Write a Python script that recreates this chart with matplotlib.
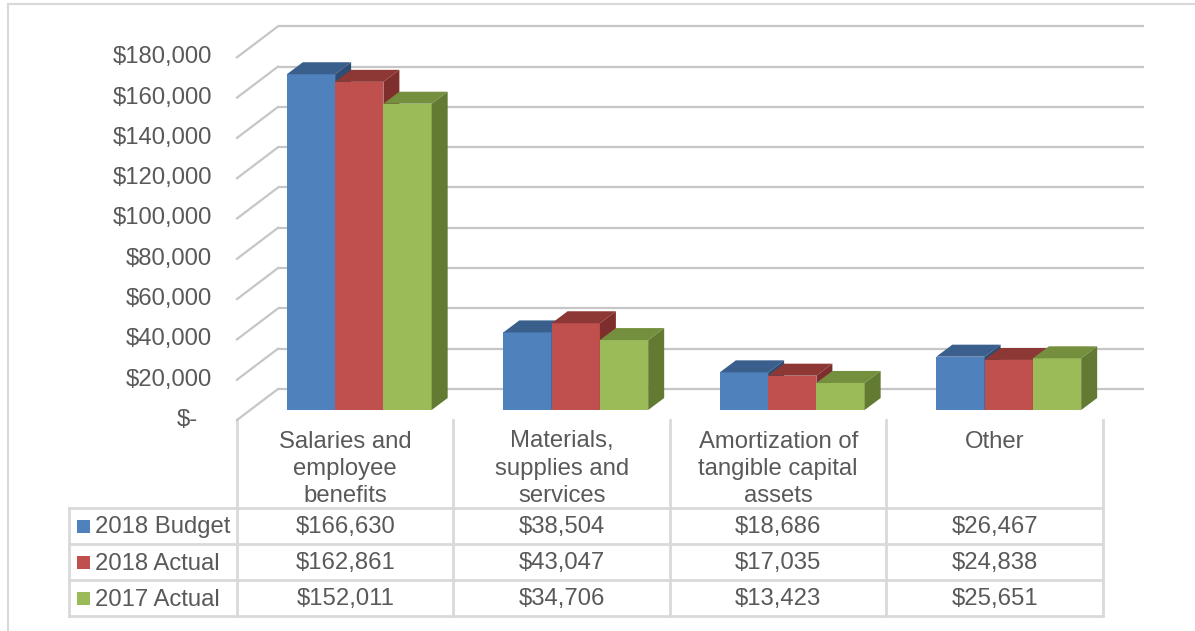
import numpy as np
import matplotlib
matplotlib.use('Agg')
import matplotlib.pyplot as plt
from matplotlib.patches import Polygon, Rectangle

plt.rcParams['font.family'] = ['Liberation Sans', 'DejaVu Sans']

categories = ['Salaries and\nemployee\nbenefits',
              'Materials,\nsupplies and\nservices',
              'Amortization of\ntangible capital\nassets',
              'Other']
series_names = ['2018 Budget', '2018 Actual', '2017 Actual']
budget_2018 = [166630, 38504, 18686, 26467]
actual_2018 = [162861, 43047, 17035, 24838]
actual_2017 = [152011, 34706, 13423, 25651]
y_ticks = [0, 20000, 40000, 60000, 80000, 100000, 120000, 140000, 160000, 180000]

series = [budget_2018, actual_2018, actual_2017]
FRONT = ['#4F81BD', '#C0504D', '#9BBB59']
TOP = ['#3A5F8C', '#8E3836', '#74903F']
SIDE = ['#2F4D72', '#7E2F2D', '#637A33']
TXT = '#595959'
GRID = '#C6C6C6'
LINE = '#D9D9D9'
FS = 17.2

W, H = 1195, 631
fig = plt.figure(figsize=(W / 100, H / 100), dpi=100)

# overlay in pixel units for the frame and the data table
lay = fig.add_axes([0, 0, 1, 1])
lay.set_xlim(0, W)
lay.set_ylim(H, 0)
lay.axis('off')

# plane of the bar front faces
PL, PR, PB, PT = 251, 1117, 410, 47.3
ax = fig.add_axes([PL / W, 1 - PB / H, (PR - PL) / W, (PB - PT) / H])
ax.set_xlim(0, len(categories))
ax.set_ylim(0, y_ticks[-1])
ax.axis('off')

sx = len(categories) / (PR - PL)   # data units per pixel
sy = y_ticks[-1] / (PB - PT)
cat_w = (PR - PL) / len(categories)

# back wall / side wall gridlines
BACK = (27, 21)
FRONTW = (-14, -10)
for v in y_ticks:
    ax.plot([BACK[0] * sx, len(categories) + BACK[0] * sx], [v + BACK[1] * sy] * 2,
            color=GRID, lw=1.6, clip_on=False, zorder=1, solid_capstyle='butt')
    ax.plot([BACK[0] * sx, FRONTW[0] * sx], [v + BACK[1] * sy, v + FRONTW[1] * sy],
            color=GRID, lw=1.6, clip_on=False, zorder=1)
    label = '${:,}'.format(v) if v else '$-'
    pad = 25 if v else 39
    ax.text((FRONTW[0] - pad) * sx, v + (FRONTW[1] + 2.5) * sy, label, ha='right',
            va='center_baseline', fontsize=FS, color=TXT, clip_on=False)

# 3-D columns
bw = 0.223
dx, dy = 16 * sx, 12 * sy
x = np.arange(len(categories)) + 0.5
for j, vals in enumerate(series):
    z = 3 + j
    bars = ax.bar(x + (j - 1) * bw, vals, width=bw, color=FRONT[j], lw=0, zorder=z)
    for r in bars:
        x0, h = r.get_x(), r.get_height()
        x1 = x0 + bw
        ax.add_patch(Polygon([(x0, h), (x1, h), (x1 + dx, h + dy), (x0 + dx, h + dy)],
                             closed=True, fc=TOP[j], lw=0, zorder=z, clip_on=False))
        ax.add_patch(Polygon([(x1, 0), (x1, h), (x1 + dx, h + dy), (x1 + dx, dy)],
                             closed=True, fc=SIDE[j], lw=0, zorder=z, clip_on=False))

# chart frame
lay.plot([8, 8], [H, 4], color=LINE, lw=1.5)
lay.plot([8, W], [4, 4], color=LINE, lw=1.5)

# data table
col_x = [PL + FRONTW[0] + cat_w * i for i in range(len(categories) + 1)]
row_lines = [508, 544, 580, 616]
tab_left = 69
for cx in col_x:
    lay.plot([cx, cx], [420, row_lines[-1]], color=LINE, lw=2, zorder=2)
lay.plot([tab_left, tab_left], [row_lines[0], row_lines[-1]], color=LINE, lw=2, zorder=2)
for ry in row_lines:
    lay.plot([tab_left, col_x[-1]], [ry, ry], color=LINE, lw=2, zorder=2)

for i, cat in enumerate(categories):
    cx = (col_x[i] + col_x[i + 1]) / 2
    for k, part in enumerate(cat.split('\n')):
        lay.text(cx, 439 + 27 * k, part, ha='center', va='center_baseline',
                 fontsize=FS, color=TXT)

for j, (name, vals) in enumerate(zip(series_names, series)):
    cy = (row_lines[j] + row_lines[j + 1]) / 2
    lay.add_patch(Rectangle((77, cy - 6.5), 13, 13, fc=FRONT[j], lw=0))
    lay.text(95, cy - 1, name, ha='left', va='center_baseline', fontsize=FS, color=TXT)
    for i, v in enumerate(vals):
        cx = (col_x[i] + col_x[i + 1]) / 2
        lay.text(cx, cy - 1, '${:,}'.format(v), ha='center', va='center_baseline',
                 fontsize=FS, color=TXT)

fig.savefig('out.png', dpi=100)
